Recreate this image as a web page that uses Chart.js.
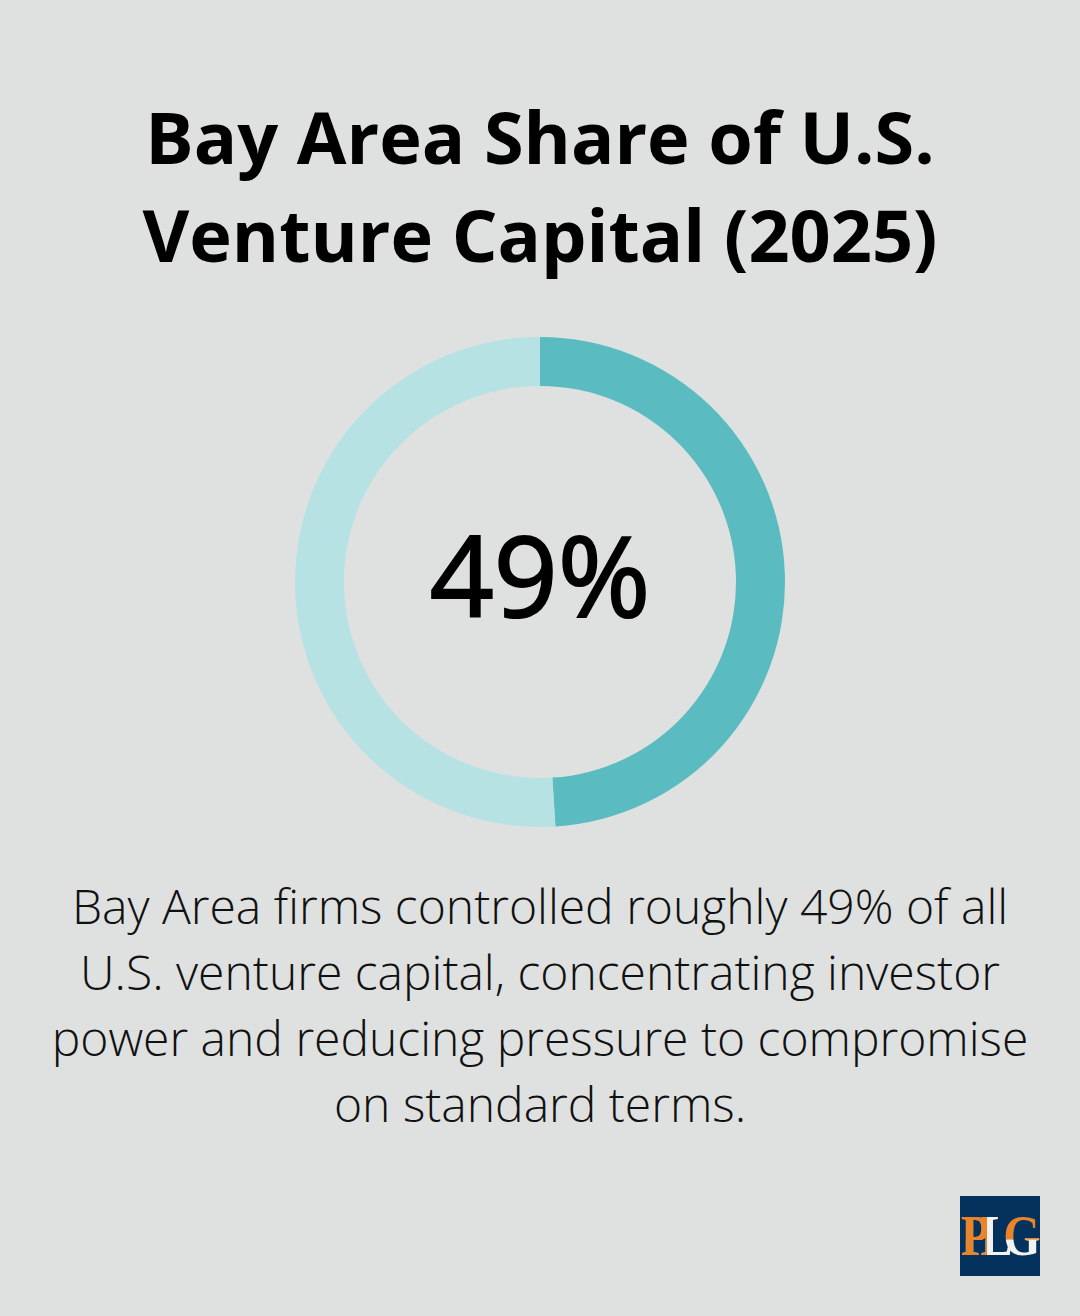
<!DOCTYPE html>
<html>
<head>
<meta charset="utf-8">
<style>
  html, body { margin: 0; padding: 0; background: #dfe1e0; }
  #page { position: relative; width: 1080px; height: 1316px; overflow: hidden; background: #dfe1e0; font-family: "Open Sans", sans-serif; color: #000; }
  #title { position: absolute; left: 0; top: 87px; width: 1080px; text-align: center; font-size: 72px; font-weight: 700; line-height: 98px; }
  #chartBox { position: absolute; left: 290px; top: 332px; width: 500px; height: 500px; }
  #centre { position: absolute; left: 290px; top: 332px; width: 500px; height: 500px; line-height: 483px; text-align: center; font-size: 112px; font-weight: 400; -webkit-text-stroke: 2px #000; }
  #note { position: absolute; left: 0; top: 873px; width: 1080px; text-align: center; font-size: 48px; font-weight: 300; line-height: 66px; color: #111; }
  #logo { position: absolute; left: 960px; top: 1196px; width: 80px; height: 80px; overflow: hidden; background: #04325c; }
  /* one text, coloured per letter by the clipped gradients */
  #logo span { position: absolute; left: 1px; top: 13px; height: 60px; font-family: "Liberation Serif", serif; font-weight: 700; font-size: 48px; line-height: 60px; letter-spacing: -9.5px; white-space: nowrap; padding-right: 11px; transform-origin: 0 47px; transform: scaleY(1.17); color: transparent;
    background-image:
      linear-gradient(90deg, #e8842a 0 26px, #f2f2f2 26px 37px, transparent 37px),
      linear-gradient(180deg, #e8842a 0 33px, #f2f2f2 33px);
    -webkit-background-clip: text; background-clip: text; }
</style>
</head>
<body>
<div id="page">
  <div id="title">Bay Area Share of U.S.<br>Venture Capital (2025)</div>
  <div id="chartBox"><canvas id="ring" width="500" height="500"></canvas></div>
  <div id="centre">49%</div>
  <div id="note">Bay Area firms controlled roughly 49% of all<br>U.S. venture capital, concentrating investor<br>power and reducing pressure to compromise<br>on standard terms.</div>
  <div id="logo"><span>PLG</span></div>
</div>
<script src="https://cdn.jsdelivr.net/npm/chart.js@4"></script>
<script>
const categories = ['Bay Area', 'Rest of U.S.'];
const shares = [49, 51];
const sliceColors = ['#5abcc1', '#b7e2e4'];

new Chart(document.getElementById('ring').getContext('2d'), {
    type: 'doughnut',
    data: {
        labels: categories,
        datasets: [{
            data: shares,
            backgroundColor: sliceColors,
            borderWidth: 0
        }]
    },
    options: {
        responsive: false,
        animation: false,
        cutout: '80%',
        radius: 245,
        layout: { padding: 0 },
        plugins: {
            legend: { display: false },
            tooltip: { enabled: false }
        }
    }
});
</script>
</body>
</html>
